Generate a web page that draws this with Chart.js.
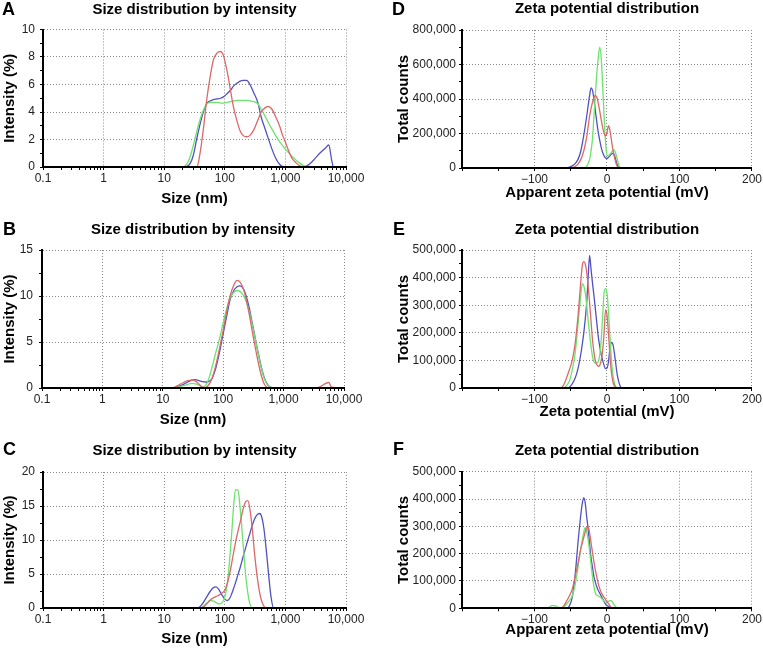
<!DOCTYPE html>
<html>
<head>
<meta charset="utf-8">
<script src="https://cdn.jsdelivr.net/npm/chart.js@4.4.0/dist/chart.umd.min.js"></script>
<style>
  body { margin: 0; background: #fff; width: 763px; height: 648px; overflow: hidden; position: relative; }
  .cell { position: absolute; }
  .letter { position: absolute; font: bold 18px/18px "Liberation Sans", Arial, sans-serif; color: #000; }
</style>
</head>
<body>
<div class="cell" style="left:0;top:0;width:380px;height:215px"><canvas id="cA"></canvas></div>
<div class="cell" style="left:0;top:215px;width:380px;height:215px"><canvas id="cB"></canvas></div>
<div class="cell" style="left:0;top:430px;width:380px;height:218px"><canvas id="cC"></canvas></div>
<div class="cell" style="left:380px;top:0;width:383px;height:215px"><canvas id="cD"></canvas></div>
<div class="cell" style="left:380px;top:215px;width:383px;height:215px"><canvas id="cE"></canvas></div>
<div class="cell" style="left:380px;top:430px;width:383px;height:218px"><canvas id="cF"></canvas></div>
<div class="letter" style="left:2px;top:0">A</div>
<div class="letter" style="left:3px;top:220px">B</div>
<div class="letter" style="left:3px;top:440px">C</div>
<div class="letter" style="left:392px;top:0">D</div>
<div class="letter" style="left:393px;top:220px">E</div>
<div class="letter" style="left:393px;top:440px">F</div>
<script>
// ---- data: size distributions (nm, intensity %) ----
const sizeTickLabels = ['0.1', '1', '10', '100', '1,000', '10,000'];

const sizeA  = [0.1, 20, 25, 30, 35, 40, 45, 50, 57, 65, 75, 85, 95, 110, 125, 140, 160, 180, 200, 230, 260, 300, 350, 400, 460, 520, 600, 700, 800, 900, 1000, 1150, 1300, 1500, 1700, 2000, 2300, 2700, 3200, 3800, 4500, 5200, 5800, 6200, 10000];
const redA   = [0, 0, 0, 0, 0.05, 1.3, 3.0, 4.8, 6.5, 7.8, 8.3, 8.4, 8.1, 6.9, 5.5, 4.3, 3.3, 2.6, 2.3, 2.2, 2.3, 2.7, 3.4, 4.0, 4.3, 4.4, 4.2, 3.6, 3.0, 2.3, 1.8, 1.1, 0.6, 0.3, 0.1, 0, 0, 0, 0, 0, 0, 0, 0, 0, 0];
const greenA = [0, 0.02, 0.4, 1.5, 2.7, 3.6, 4.2, 4.55, 4.7, 4.7, 4.7, 4.65, 4.65, 4.7, 4.75, 4.8, 4.85, 4.85, 4.85, 4.85, 4.8, 4.75, 4.6, 4.2, 3.7, 3.25, 2.75, 2.25, 1.85, 1.55, 1.3, 1.0, 0.75, 0.5, 0.3, 0.1, 0, 0, 0, 0, 0, 0, 0, 0, 0];
const blueA  = [0, 0, 0.1, 0.8, 2.2, 3.3, 4.1, 4.6, 4.8, 4.9, 4.95, 5.0, 5.1, 5.35, 5.6, 5.9, 6.1, 6.25, 6.3, 6.3, 6.0, 5.4, 4.7, 3.6, 2.8, 2.1, 1.3, 0.6, 0.2, 0.03, 0, 0, 0, 0, 0, 0, 0.1, 0.35, 0.7, 1.05, 1.35, 1.6, 0.5, 0, 0];

const sizeB  = [0.1, 15, 18, 22, 26, 30, 35, 40, 45, 50, 57, 65, 75, 85, 100, 115, 130, 150, 170, 190, 215, 240, 270, 300, 340, 380, 430, 480, 540, 600, 700, 3500, 4200, 5000, 5600, 6200, 10000];
const redB   = [0, 0.05, 0.3, 0.6, 0.8, 0.85, 0.75, 0.4, 0.1, 0.05, 0.3, 1.0, 2.4, 4.0, 6.3, 8.4, 10.0, 11.2, 11.7, 11.5, 10.8, 9.7, 8.0, 6.3, 4.4, 2.8, 1.3, 0.4, 0.05, 0, 0, 0, 0.2, 0.5, 0.6, 0.1, 0];
const greenB = [0, 0, 0.1, 0.25, 0.4, 0.5, 0.45, 0.3, 0.1, 0.2, 0.9, 2.2, 3.8, 5.1, 7.1, 8.7, 9.8, 10.4, 10.6, 10.5, 10.1, 9.4, 8.3, 7.0, 5.3, 3.7, 2.1, 1.0, 0.35, 0.1, 0, 0, 0, 0, 0, 0, 0];
const blueB  = [0, 0, 0.15, 0.4, 0.65, 0.85, 0.9, 0.8, 0.7, 0.65, 0.7, 1.0, 2.1, 3.6, 5.9, 7.9, 9.6, 10.6, 11.0, 11.1, 10.8, 10.0, 8.7, 7.2, 5.4, 3.8, 2.2, 1.1, 0.4, 0.1, 0, 0, 0, 0, 0, 0, 0];

const sizeC  = [0.1, 35, 40, 45, 50, 58, 65, 72, 80, 90, 100, 110, 120, 130, 140, 150, 165, 180, 200, 220, 240, 260, 285, 310, 340, 370, 400, 440, 480, 530, 580, 640, 10000];
const redC   = [0, 0, 0, 0.2, 0.6, 1.2, 1.5, 1.7, 1.9, 2.2, 2.6, 3.6, 5.0, 6.6, 8.2, 9.6, 11.3, 12.7, 14.5, 15.6, 15.8, 14.5, 11.5, 8.0, 4.8, 2.6, 1.2, 0.3, 0, 0, 0, 0, 0];
const greenC = [0, 0, 0, 0.3, 0.7, 1.1, 1.0, 0.8, 0.6, 0.8, 1.6, 3.6, 7.0, 11.0, 15.0, 17.4, 17.3, 14.5, 9.5, 5.0, 2.2, 0.6, 0, 0, 0, 0, 0, 0, 0, 0, 0, 0, 0];
const blueC  = [0, 0, 0.3, 0.9, 1.6, 2.5, 3.0, 3.1, 2.7, 1.9, 1.3, 1.1, 1.4, 2.1, 2.9, 3.7, 4.9, 6.0, 7.5, 8.8, 10.0, 11.0, 12.2, 13.1, 13.7, 13.9, 13.6, 11.8, 8.8, 4.8, 1.6, 0, 0];

// ---- data: zeta potential distributions (mV, total counts) ----
const zetaLabelValues = [-100, 0, 100, 200];
const zetaLabelText   = ['\u2212100', '0', '100', '200'];

const zetaD  = [-200, -56, -52, -48, -44, -40, -36, -32, -28, -24, -22, -20, -18, -16, -14, -12, -10, -8, -6, -4, -2, 0, 2, 4, 6, 8, 10, 12, 14, 16, 18, 20, 200];
const redD   = [0, 0, 0, 2000, 8000, 22000, 50000, 100000, 180000, 300000, 345000, 380000, 410000, 420000, 410000, 375000, 330000, 280000, 235000, 200000, 185000, 205000, 245000, 220000, 165000, 110000, 68000, 35000, 12000, 2000, 0, 0, 0];
const greenD = [0, 0, 0, 0, 0, 0, 0, 0, 10000, 50000, 100000, 170000, 300000, 430000, 550000, 640000, 700000, 640000, 480000, 300000, 150000, 75000, 70000, 80000, 90000, 100000, 105000, 85000, 55000, 20000, 3000, 0, 0];
const blueD  = [0, 0, 5000, 12000, 25000, 50000, 100000, 190000, 300000, 420000, 465000, 450000, 400000, 330000, 265000, 205000, 160000, 120000, 90000, 70000, 58000, 55000, 62000, 70000, 80000, 85000, 78000, 50000, 20000, 5000, 0, 0, 0];

const zetaE  = [-200, -64, -60, -56, -52, -48, -44, -40, -36, -34, -32, -30, -28, -26, -24, -22, -20, -18, -16, -14, -12, -10, -8, -6, -4, -2, 0, 2, 4, 6, 8, 10, 12, 14, 16, 18, 20, 200];
const redE   = [0, 0, 10000, 35000, 65000, 100000, 160000, 260000, 390000, 445000, 458000, 450000, 420000, 370000, 310000, 240000, 175000, 130000, 98000, 85000, 78000, 82000, 100000, 135000, 200000, 283000, 265000, 200000, 120000, 60000, 25000, 8000, 2000, 0, 0, 0, 0, 0];
const greenE = [0, 0, 0, 8000, 25000, 65000, 125000, 230000, 340000, 378000, 370000, 345000, 300000, 245000, 195000, 150000, 115000, 95000, 90000, 90000, 95000, 120000, 175000, 260000, 345000, 360000, 345000, 280000, 190000, 105000, 50000, 20000, 6000, 0, 0, 0, 0, 0];
const blueE  = [0, 0, 0, 0, 3000, 15000, 35000, 70000, 125000, 160000, 200000, 250000, 310000, 400000, 480000, 430000, 380000, 335000, 285000, 235000, 185000, 150000, 122000, 100000, 82000, 70000, 72000, 95000, 140000, 165000, 160000, 130000, 90000, 50000, 25000, 8000, 0, 0];

const zetaF  = [-200, -84, -80, -76, -72, -68, -64, -60, -56, -52, -48, -44, -40, -36, -34, -32, -30, -28, -26, -24, -22, -20, -18, -16, -14, -12, -10, -8, -6, -4, -2, 0, 2, 4, 6, 8, 10, 12, 14, 16, 200];
const redF   = [0, 0, 0, 0, 0, 0, 0, 8000, 25000, 45000, 70000, 115000, 165000, 220000, 240000, 260000, 280000, 295000, 300000, 275000, 240000, 205000, 170000, 140000, 114000, 90000, 72000, 58000, 48000, 40000, 32000, 25000, 17000, 10000, 3000, 0, 0, 0, 0, 0, 0];
const greenF = [0, 0, 3000, 10000, 10000, 4000, 2000, 5000, 15000, 28000, 45000, 85000, 150000, 220000, 250000, 280000, 295000, 280000, 250000, 210000, 160000, 115000, 80000, 55000, 48000, 45000, 42000, 38000, 32000, 26000, 23000, 22000, 25000, 28000, 28000, 20000, 12000, 6000, 2000, 0, 0];
const blueF  = [0, 0, 0, 0, 0, 0, 0, 0, 0, 8000, 40000, 120000, 240000, 345000, 385000, 405000, 385000, 335000, 290000, 235000, 185000, 150000, 115000, 95000, 78000, 65000, 55000, 45000, 35000, 25000, 15000, 10000, 7000, 4000, 1000, 0, 0, 0, 0, 0, 0];

// ---- styling ----
Chart.defaults.font.family = '"Liberation Sans", Arial, Helvetica, sans-serif';
Chart.defaults.color = '#111';
const RED = 'rgb(218,105,105)', GREEN = 'rgb(110,226,110)', BLUE = 'rgb(82,82,190)';
const GRID = '#8a8a8a', NONE = 'rgba(0,0,0,0)';

function pts(xs, ys) {
  return xs.map((x, i) => ({ x: x, y: ys[i] }));
}

function sets(xs, r, g, b) {
  return [[r, RED], [g, GREEN], [b, BLUE]].map(([ys, col]) => ({
    data: pts(xs, ys), borderColor: col, borderWidth: 1.3,
    pointRadius: 0, fill: false, cubicInterpolationMode: 'monotone'
  }));
}

const isDecade = v => Math.abs(Math.log10(v) - Math.round(Math.log10(v))) < 1e-6;

function yAxis(p) {
  return {
    min: 0, max: p.yMax,
    afterFit: s => { s.width = p.yWidth; },
    ticks: { stepSize: p.yStep, autoSkip: false, padding: p.yPad, color: '#222', font: { size: 12 },
      callback: v => (v % p.yMajor === 0 ? v.toLocaleString('en-US') : '') },
    grid: { color: c => (c.tick && c.tick.value % p.yMajor === 0 ? GRID : NONE),
      tickColor: '#000', tickLength: 3, tickWidth: 1, lineWidth: 1 },
    border: { color: '#000', width: 2, dash: [1, 2], z: 1 },
    title: { display: true, text: p.yTitle, color: '#000', font: { size: 15, weight: 'bold' },
      padding: { top: p.yTitlePad, bottom: 0 } }
  };
}

function xCommon(p) {
  return {
    afterFit: s => { s.height = p.xHeight; },
    border: { color: '#000', width: 2, dash: [1, 2], z: 1 },
    title: { display: true, text: p.xTitle, color: '#000', font: { size: 15, weight: 'bold' },
      padding: { top: 0, bottom: p.xTitlePad } }
  };
}

function sizeAxis(p) {
  return Object.assign(xCommon(p), {
    type: 'logarithmic', min: 0.1, max: 10000,
    afterBuildTicks: axis => {
      const t = [];
      for (let e = -1; e < 4; e++) {
        for (let m = 1; m < 10; m++) t.push({ value: m * Math.pow(10, e) });
      }
      t.push({ value: 10000 });
      axis.ticks = t;
    },
    ticks: { autoSkip: false, maxRotation: 0, padding: 1, color: '#222', font: { size: 12 },
      callback: v => (isDecade(v) ? sizeTickLabels[Math.round(Math.log10(v)) + 1] : '') },
    grid: { color: c => (c.tick && isDecade(c.tick.value) ? GRID : NONE),
      tickColor: '#000', tickLength: 3, tickWidth: 1, lineWidth: 1 }
  });
}

function zetaAxis(p) {
  return Object.assign(xCommon(p), {
    type: 'linear', min: -200, max: 200,
    ticks: { stepSize: 50, autoSkip: false, maxRotation: 0, padding: 1, color: '#222', font: { size: 12 },
      callback: v => { const i = zetaLabelValues.indexOf(v); return i < 0 ? '' : zetaLabelText[i]; } },
    grid: { color: c => (c.tick && zetaLabelValues.indexOf(c.tick.value) >= 0 ? GRID : NONE),
      tickColor: '#000', tickLength: 3, tickWidth: 1, lineWidth: 1 }
  });
}

function panel(id, p, datasets, xAxis) {
  return new Chart(document.getElementById(id), {
    type: 'line',
    data: { datasets: datasets },
    options: {
      responsive: true, maintainAspectRatio: false, animation: false,
      layout: { padding: { left: 0, top: 0, bottom: 0, right: p.padRight } },
      plugins: {
        legend: { display: false }, tooltip: { enabled: false },
        title: { display: true, text: p.title, fullSize: false, color: '#000',
          font: { size: 15, weight: 'bold' }, padding: { top: p.tTop, bottom: p.tBottom } }
      },
      scales: { x: xAxis, y: yAxis(p) }
    }
  });
}

const sizeTitle = 'Size distribution by intensity';
const zetaTitle = 'Zeta potential distribution';

const pA = { title: sizeTitle, tTop: 1, tBottom: 10.5, padRight: 34, yMax: 10, yStep: 1, yMajor: 2, yWidth: 43, yPad: 5,
  yTitle: 'Intensity (%)', yTitlePad: 1, xHeight: 48, xTitle: 'Size (nm)', xTitlePad: 6.7 };
const pB = { title: sizeTitle, tTop: 6, tBottom: 11, padRight: 36, yMax: 15, yStep: 2.5, yMajor: 5, yWidth: 42, yPad: 6,
  yTitle: 'Intensity (%)', yTitlePad: 1, xHeight: 42, xTitle: 'Size (nm)', xTitlePad: 1 };
const pC = { title: sizeTitle, tTop: 11.7, tBottom: 12.3, padRight: 34, yMax: 20, yStep: 2.5, yMajor: 5, yWidth: 43, yPad: 5,
  yTitle: 'Intensity (%)', yTitlePad: 1, xHeight: 40, xTitle: 'Size (nm)', xTitlePad: 0 };
const pD = { title: zetaTitle, tTop: 0, tBottom: 12, padRight: 10, yMax: 800000, yStep: 100000, yMajor: 200000, yWidth: 82, yPad: 3,
  yTitle: 'Total counts', yTitlePad: 14.5, xHeight: 47, xTitle: 'Apparent zeta potential (mV)', xTitlePad: 13 };
const pE = { title: zetaTitle, tTop: 6, tBottom: 11, padRight: 10, yMax: 500000, yStep: 50000, yMajor: 100000, yWidth: 82, yPad: 3,
  yTitle: 'Total counts', yTitlePad: 15, xHeight: 42, xTitle: 'Zeta potential (mV)', xTitlePad: 9.3 };
const pF = { title: zetaTitle, tTop: 11.7, tBottom: 12, padRight: 10, yMax: 500000, yStep: 50000, yMajor: 100000, yWidth: 82, yPad: 3,
  yTitle: 'Total counts', yTitlePad: 14.5, xHeight: 39.7, xTitle: 'Apparent zeta potential (mV)', xTitlePad: 9 };

panel('cA', pA, sets(sizeA, redA, greenA, blueA), sizeAxis(pA));
panel('cB', pB, sets(sizeB, redB, greenB, blueB), sizeAxis(pB));
panel('cC', pC, sets(sizeC, redC, greenC, blueC), sizeAxis(pC));
panel('cD', pD, sets(zetaD, redD, greenD, blueD), zetaAxis(pD));
panel('cE', pE, sets(zetaE, redE, greenE, blueE), zetaAxis(pE));
panel('cF', pF, sets(zetaF, redF, greenF, blueF), zetaAxis(pF));
</script>
</body>
</html>
